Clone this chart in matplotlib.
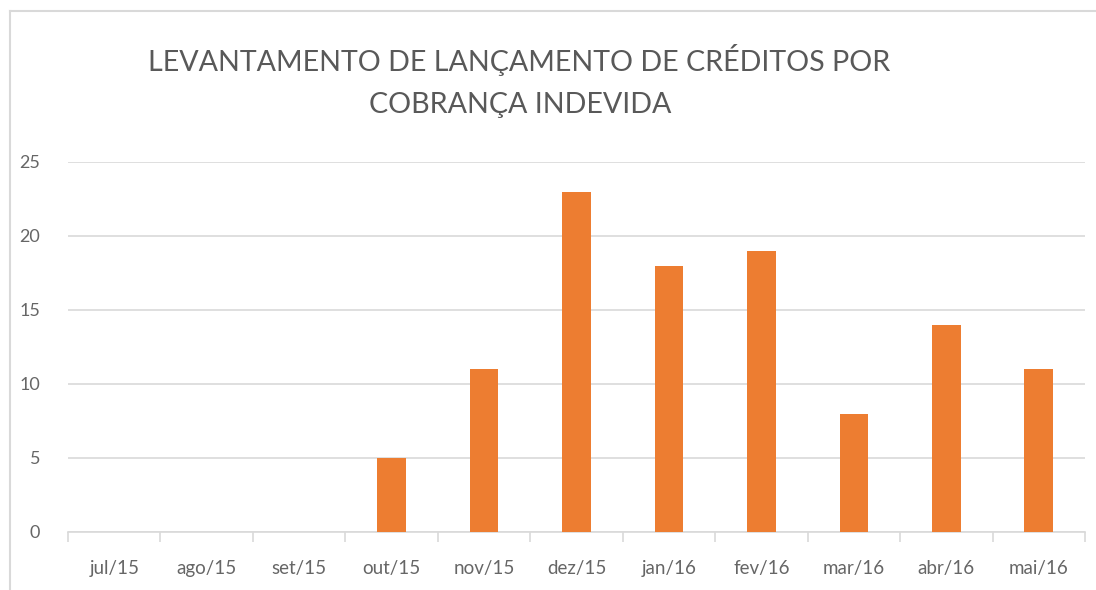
import matplotlib
matplotlib.use("Agg")
import matplotlib.pyplot as plt
from matplotlib.lines import Line2D
import numpy as np

categories = ["jul/15", "ago/15", "set/15", "out/15", "nov/15", "dez/15",
              "jan/16", "fev/16", "mar/16", "abr/16", "mai/16"]
values = [0, 0, 0, 5, 11, 23, 18, 19, 8, 14, 11]
y_ticks = [0, 5, 10, 15, 20, 25]
title_lines = ["LEVANTAMENTO DE LANÇAMENTO DE CRÉDITOS POR", "COBRANÇA INDEVIDA"]

plt.rcParams['font.family'] = ['Lato', 'DejaVu Sans']
W, H = 1096, 590
fig = plt.figure(figsize=(W/100, H/100), dpi=100)
fig.patch.set_facecolor("white")

ax = fig.add_axes([68/W, 1-532/H, (1085-68)/W, (532-162)/H])
x = np.arange(len(categories))
ax.bar(x, values, width=0.31, color="#ED7D31", zorder=3)
ax.set_xlim(-0.5, len(categories)-0.5)
ax.set_ylim(0, 25)
ax.set_yticks(y_ticks)
ax.set_yticklabels([str(t) for t in y_ticks])
ax.yaxis.grid(True, color="#d9d9d9", linewidth=1.2, zorder=0)
for s in ["top", "right", "left"]:
    ax.spines[s].set_visible(False)
ax.spines["bottom"].set_color("#d9d9d9")
ax.spines["bottom"].set_linewidth(1.2)
ax.tick_params(axis="y", length=0, pad=20, labelsize=13, labelcolor="#666666")
ax.set_xticks(x)
ax.set_xticklabels(categories)
ax.tick_params(axis="x", which="major", length=0, pad=20, labelsize=13.5, labelcolor="#666666")
ax.set_xticks(np.arange(-0.5, len(categories)), minor=True)
ax.tick_params(axis="x", which="minor", length=7, color="#d9d9d9", width=1.2)

fig.text(519/W, 1-60/H, title_lines[0], ha="center", va="center", fontsize=20.6, color="#595959")
fig.text(520/W, 1-105/H, title_lines[1], ha="center", va="center", fontsize=20.6, color="#595959")

# chart frame (left and top edges visible)
fig.add_artist(Line2D([9.5/W, 9.5/W], [0, 1-11/H], transform=fig.transFigure, color="#d9d9d9", lw=1.5))
fig.add_artist(Line2D([9.5/W, 1], [1-11/H, 1-11/H], transform=fig.transFigure, color="#d9d9d9", lw=1.5))

fig.savefig("out.png", dpi=100, facecolor="white")
